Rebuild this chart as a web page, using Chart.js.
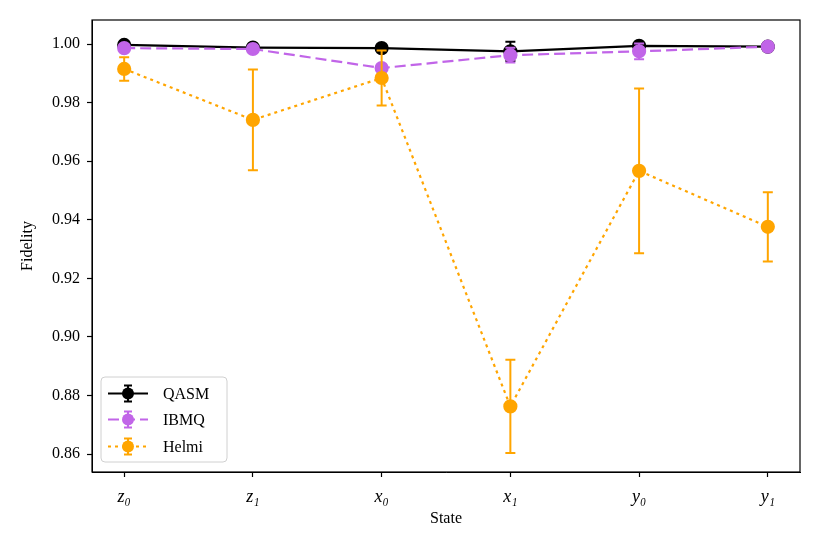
<!DOCTYPE html>
<html>
<head>
<meta charset="utf-8">
<script src="https://cdn.jsdelivr.net/npm/chart.js@4/dist/chart.umd.min.js"></script>
<style>
  html, body { margin: 0; padding: 0; background: #fff; }
  #wrap { width: 822px; height: 548px; position: relative; }
</style>
</head>
<body>
<div id="wrap"><canvas id="chart"></canvas></div>
<script>
const states = ['z\u2080', 'z\u2081', 'x\u2080', 'x\u2081', 'y\u2080', 'y\u2081'];
const yTicks = [0.86, 0.88, 0.90, 0.92, 0.94, 0.96, 0.98, 1.00];

const qasm    = [0.9997, 0.9988, 0.9986, 0.9975, 0.9994, 0.9991];
const qasmErr = [0.0004, 0.0005, 0.0010, 0.0033, 0.0006, 0.0003];
const ibmq    = [0.9986, 0.9983, 0.9918, 0.9962, 0.9975, 0.9991];
const ibmqErr = [0.0005, 0.0006, 0.0008, 0.0025, 0.0027, 0.0004];
const helmi   = [0.9915, 0.9741, 0.9884, 0.8763, 0.9567, 0.9376];
const helmiErr= [0.0040, 0.0172, 0.0094, 0.0159, 0.0281, 0.0118];

const FONT = '"Liberation Serif", "DejaVu Serif", serif';

function pts(vals) {
  return vals.map((v, i) => ({ x: i, y: v }));
}

const errorBars = {
  id: 'errorBars',
  beforeDatasetDraw(chart, args) {
    const ds = chart.data.datasets[args.index];
    if (!ds.errors) return;
    const { ctx, scales: { x, y } } = chart;
    ctx.save();
    ctx.strokeStyle = ds.borderColor;
    ctx.lineWidth = 2;
    ctx.setLineDash([]);
    ds.data.forEach((p, i) => {
      const e = ds.errors[i];
      const px = x.getPixelForValue(p.x);
      const top = y.getPixelForValue(p.y + e);
      const bot = y.getPixelForValue(p.y - e);
      ctx.beginPath();
      ctx.moveTo(px, top); ctx.lineTo(px, bot);
      ctx.moveTo(px - 5, top); ctx.lineTo(px + 5, top);
      ctx.moveTo(px - 5, bot); ctx.lineTo(px + 5, bot);
      ctx.stroke();
    });
    ctx.restore();
  }
};

const frameAndLegend = {
  id: 'frameAndLegend',
  afterDraw(chart) {
    const { ctx, chartArea: a } = chart;
    ctx.save();
    ctx.strokeStyle = '#000';
    ctx.lineWidth = 1.2;
    ctx.strokeRect(a.left, a.top, a.right - a.left, a.bottom - a.top);

    // legend box, lower left
    const bx = 101, by = 377, bw = 126, bh = 85;
    ctx.fillStyle = 'rgba(255,255,255,0.8)';
    ctx.strokeStyle = '#d0d0d0';
    ctx.lineWidth = 1;
    ctx.beginPath();
    ctx.roundRect(bx, by, bw, bh, 4);
    ctx.fill();
    ctx.stroke();

    const rows = [393.5, 419.5, 446.5];
    chart.data.datasets.forEach((ds, i) => {
      const cy = rows[i];
      ctx.strokeStyle = ds.borderColor;
      ctx.lineWidth = 2.2;
      ctx.setLineDash(ds.borderDash || []);
      ctx.beginPath();
      ctx.moveTo(108, cy); ctx.lineTo(148, cy);
      ctx.stroke();
      ctx.setLineDash([]);
      ctx.lineWidth = 2;
      ctx.beginPath();
      ctx.moveTo(128, cy - 8); ctx.lineTo(128, cy + 8);
      ctx.moveTo(124, cy - 8); ctx.lineTo(132, cy - 8);
      ctx.moveTo(124, cy + 8); ctx.lineTo(132, cy + 8);
      ctx.stroke();
      ctx.fillStyle = ds.borderColor;
      ctx.beginPath();
      ctx.arc(128, cy, 6, 0, Math.PI * 2);
      ctx.fill();
      ctx.fillStyle = '#000';
      ctx.font = '16px ' + FONT;
      ctx.textBaseline = 'middle';
      ctx.textAlign = 'left';
      ctx.fillText(ds.label, 163, cy + 1);
    });
    ctx.restore();
  }
};

function series(label, vals, errs, color, dash, order) {
  return {
    label,
    data: pts(vals),
    errors: errs,
    borderColor: color,
    backgroundColor: color,
    pointBackgroundColor: color,
    pointBorderColor: color,
    pointRadius: 6,
    pointHoverRadius: 6,
    borderWidth: 2.2,
    borderDash: dash,
    borderCapStyle: 'butt',
    tension: 0,
    fill: false,
    order
  };
}

new Chart(document.getElementById('chart'), {
  type: 'line',
  data: {
    datasets: [
      series('QASM', qasm, qasmErr, '#000000', [], 2),
      series('IBMQ', ibmq, ibmqErr, '#c165e8', [11, 5], 1),
      series('Helmi', helmi, helmiErr, '#ffa500', [3, 4], 0)
    ]
  },
  options: {
    responsive: true,
    maintainAspectRatio: false,
    animation: false,
    layout: { padding: { top: 20, right: 22, left: 0, bottom: 0 } },
    plugins: { legend: { display: false }, tooltip: { enabled: false } },
    scales: {
      x: {
        type: 'linear',
        min: -0.25,
        max: 5.25,
        afterBuildTicks: s => { s.ticks = states.map((_, i) => ({ value: i })); },
        afterFit: s => { s.height = 76; },
        grid: { display: true, drawOnChartArea: false, tickLength: 5, color: '#000', tickWidth: 1.2 },
        border: { display: true, color: '#000' },
        ticks: {
          autoSkip: false,
          maxRotation: 0,
          padding: 9,
          color: '#000',
          font: { family: FONT, size: 18, style: 'italic' },
          callback: v => states[v]
        },
        title: {
          display: true,
          text: 'State',
          color: '#000',
          font: { family: FONT, size: 16 },
          padding: { top: 0, bottom: 20 }
        }
      },
      y: {
        min: 0.8539,
        max: 1.0082,
        afterBuildTicks: s => { s.ticks = yTicks.map(v => ({ value: v })); },
        afterFit: s => { s.width = 92; },
        grid: { display: true, drawOnChartArea: false, tickLength: 5, color: '#000', tickWidth: 1.2 },
        border: { display: true, color: '#000' },
        ticks: {
          padding: 7,
          color: '#000',
          font: { family: FONT, size: 16 },
          callback: v => v.toFixed(2)
        },
        title: {
          display: true,
          text: 'Fidelity',
          color: '#000',
          font: { family: FONT, size: 16 },
          padding: { top: 18, bottom: 0 }
        }
      }
    }
  },
  plugins: [errorBars, frameAndLegend]
});
</script>
</body>
</html>
